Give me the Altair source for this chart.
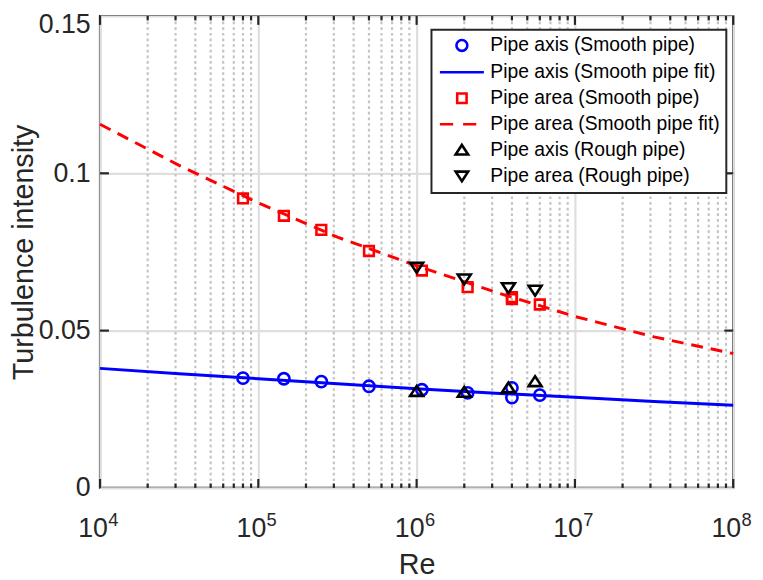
import altair as alt
import pandas as pd

# ---------------- data ----------------
series_names = [
    "Pipe axis (Smooth pipe)",
    "Pipe axis (Smooth pipe fit)",
    "Pipe area (Smooth pipe)",
    "Pipe area (Smooth pipe fit)",
    "Pipe axis (Rough pipe)",
    "Pipe area (Rough pipe)",
]
series_colors = ["#0000ff", "#0000ff", "#ff0000", "#ff0000", "#000000", "#000000"]

re_smooth = [8.0e4, 1.45e5, 2.5e5, 5.0e5, 1.08e6, 2.1e6, 4.0e6, 4.0e6, 6.0e6]
ti_axis_smooth = [0.0349, 0.0347, 0.0338, 0.0323, 0.0312, 0.0302, 0.0318, 0.0287, 0.0295]
ti_area_smooth = [0.0920, 0.0865, 0.0820, 0.0753, 0.0691, 0.0638, 0.0606, 0.0600, 0.0583]

re_rough = [1.0e6, 2.0e6, 3.8e6, 5.6e6]
ti_axis_rough = [0.0307, 0.0304, 0.0318, 0.0338]
ti_area_rough = [0.0701, 0.0664, 0.0636, 0.0628]

re_fit = [1e4, 3.16e4, 1e5, 3.16e5, 1e6, 3.16e6, 1e7, 3.16e7, 1e8]
ti_axis_fit = [0.0380, 0.0363, 0.0347, 0.0331, 0.0315, 0.0301, 0.0288, 0.0275, 0.0263]
ti_area_fit = [0.1156, 0.1025, 0.0906, 0.0797, 0.0706, 0.0622, 0.0545, 0.0480, 0.0427]

decades = [1e4, 1e5, 1e6, 1e7, 1e8]
decade_exponents = ["4", "5", "6", "7", "8"]
minor_ticks = [m * d for d in decades[:-1] for m in range(2, 10)]
y_ticks = [0, 0.05, 0.1, 0.15]
y_inner_ticks = [0.05, 0.1]

# ---------------- styling ----------------
W, H = 640, 477
FONT = "Liberation Sans"
TXT = "#262626"
shape_paths = [
    "circle",
    "M-4.04,0H4.04",
    "M-0.86,-0.86H0.86V0.86H-0.86Z",
    "M-4.04,0H-1.6M0.22,0H2.64",
    "M0,-0.95L1.15,0.8H-1.15Z",
    "M0,0.95L1.15,-0.8H-1.15Z",
]

# ---------------- tables ----------------
def pts(re, ti, name):
    return pd.DataFrame({"Re": re, "TI": ti, "series": name})

df_circ = pts(re_smooth, ti_axis_smooth, series_names[0])
df_sq = pts(re_smooth, ti_area_smooth, series_names[2])
df_tri = pd.concat([pts(re_rough, ti_axis_rough, series_names[4]),
                    pts(re_rough, ti_area_rough, series_names[5])])
df_fit_axis = pts(re_fit, ti_axis_fit, series_names[1])
df_fit_area = pts(re_fit, ti_area_fit, series_names[3])
df_dec = pd.DataFrame({"Re": decades, "exp": decade_exponents})
df_minor = pd.DataFrame({"Re": minor_ticks})
df_yin = pd.DataFrame({"TI": y_inner_ticks})

xscale = alt.Scale(type="log", domain=[1e4, 1e8], nice=False)
yscale = alt.Scale(domain=[0, 0.15], nice=False, zero=False)

xaxis = alt.Axis(
    values=decades, labelExpr="'10'", labelOffset=-7.5, labelPadding=28.5,
    labelFlush=False, labelOverlap=False, grid=True, title="Re", titlePadding=9,
)
yaxis = alt.Axis(
    values=y_ticks, labelExpr="toString(round(datum.value * 100) / 100)",
    labelPadding=10, labelOverlap=False, labelFlush=False, grid=True,
    title="Turbulence intensity", titlePadding=0,
    labelOffset={"condition": {"test": "datum.value > 0.149", "value": 8.5}, "value": 0},
)

X = alt.X("Re:Q", scale=xscale, axis=xaxis)
Y = alt.Y("TI:Q", scale=yscale, axis=yaxis)

leg = alt.Legend(title=None, orient="none", legendX=335, legendY=14)
color = alt.Color("series:N", scale=alt.Scale(domain=series_names, range=series_colors), legend=leg)
shape = alt.Shape("series:N", scale=alt.Scale(domain=series_names, range=shape_paths), legend=leg)

minor_grid = alt.Chart(df_minor).mark_rule(
    color="#c4c4c4", strokeWidth=2.2, strokeDash=[2.7, 3]
).encode(x=X, y=alt.value(0), y2=alt.value(H))

tick_style = dict(color=TXT, strokeWidth=2.2)
maj_bot = alt.Chart(df_dec).mark_rule(**tick_style).encode(x=X, y=alt.value(H), y2=alt.value(H - 9))
maj_top = alt.Chart(df_dec).mark_rule(**tick_style).encode(x=X, y=alt.value(0), y2=alt.value(9))
min_bot = alt.Chart(df_minor).mark_rule(**tick_style).encode(x=X, y=alt.value(H), y2=alt.value(H - 4.5))
min_top = alt.Chart(df_minor).mark_rule(**tick_style).encode(x=X, y=alt.value(0), y2=alt.value(4.5))
y_left = alt.Chart(df_yin).mark_rule(**tick_style).encode(y=Y, x=alt.value(0), x2=alt.value(9))
y_right = alt.Chart(df_yin).mark_rule(**tick_style).encode(y=Y, x=alt.value(W - 9), x2=alt.value(W))

exps = alt.Chart(df_dec).mark_text(
    align="center", baseline="middle", dx=13.5, dy=32, fontSize=18.5, font=FONT, color=TXT
).encode(x=X, y=alt.value(H), text="exp:N")

point_style = dict(filled=False, size=130, strokeWidth=2.6, opacity=1)
circles = alt.Chart(df_circ).mark_point(**point_style).encode(x=X, y=Y, color=color, shape=shape)
fit_axis = alt.Chart(df_fit_axis).mark_line(strokeWidth=3).encode(x=X, y=Y, color=color)
squares = alt.Chart(df_sq).mark_point(**point_style).encode(x=X, y=Y, color=color, shape=shape)
fit_area = alt.Chart(df_fit_area).mark_line(strokeWidth=3, strokeDash=[12, 8]).encode(x=X, y=Y, color=color)
tris = alt.Chart(df_tri).mark_point(**point_style).encode(x=X, y=Y, color=color, shape=shape)

chart = alt.layer(
    minor_grid, maj_bot, maj_top, min_bot, min_top, y_left, y_right, exps,
    circles, fit_axis, squares, fit_area, tris,
).properties(
    width=W, height=H,
    autosize=alt.AutoSizeParams(type="none"),
    padding={"left": 93, "top": 5, "right": 22, "bottom": 90},
    background="white",
).configure_view(
    stroke=TXT, strokeWidth=2.2
).configure_axis(
    domain=False, ticks=False,
    gridColor="#dedede", gridWidth=2.2,
    labelFont=FONT, labelFontSize=27, labelColor=TXT,
    titleFont=FONT, titleFontSize=29, titleFontWeight="normal", titleColor=TXT,
).configure_legend(
    labelFont=FONT, labelFontSize=19.5, labelColor="#000000", labelLimit=400,
    symbolSize=121, symbolStrokeWidth=2.6, symbolOffset=15, labelOffset=19,
    padding=6, rowPadding=5.2,
    strokeColor=TXT, strokeWidth=2, fillColor="white", cornerRadius=0,
)

chart.save("out.html", embed_options={"renderer": "svg", "actions": False})
